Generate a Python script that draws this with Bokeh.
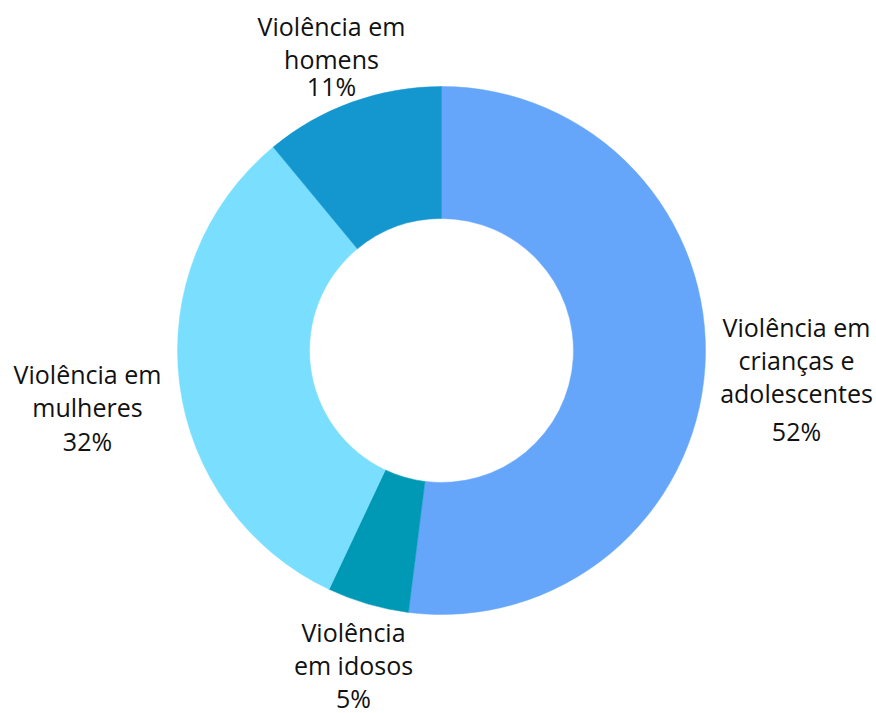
import math
from bokeh.plotting import figure
from bokeh.models import ColumnDataSource, Range1d
from bokeh.core.properties import value
from bokeh.embed import file_html
from bokeh.resources import INLINE

# ---- data ----
categories = ["Violência em crianças e adolescentes", "Violência em idosos",
              "Violência em mulheres", "Violência em homens"]
values = [52, 5, 32, 11]
label_text = ["Violência em\ncrianças e\nadolescentes", "Violência\nem idosos",
              "Violência em\nmulheres", "Violência em\nhomens"]

# ---- style ----
colors = ["#66A6FA", "#0099B5", "#7ADFFE", "#1497CF"]
W, H = 876, 713
CX, CY = 441, 363          # donut centre (px, y up)
R_OUT, R_IN = 264, 132
# position of the percentage line, in px relative to centre (x right, y down)
pct_offsets = [(355, 80), (-88, 347), (-354, 90), (-110, -265)]
pct_gap = [38, 33, 34, 27]
LINE_GAP = 33
FONT = "Open Sans"
FONT_SIZE = "25px"

total = float(sum(values))
starts, ends = [], []
acc = 0.0
for v in values:
    starts.append(math.pi / 2 - acc / total * 2 * math.pi)
    acc += v
    ends.append(math.pi / 2 - acc / total * 2 * math.pi)

wedges = ColumnDataSource(dict(x=[CX] * len(values), y=[CY] * len(values),
                               start=starts, end=ends, color=colors,
                               cat=categories, val=values))

p = figure(width=W, height=H, output_backend="svg", toolbar_location=None,
           x_range=Range1d(0, W), y_range=Range1d(0, H), min_border=0,
           outline_line_color=None)
p.axis.visible = False
p.grid.visible = False
p.background_fill_color = "white"
p.border_fill_color = "white"

p.annular_wedge(x="x", y="y", inner_radius=R_IN, outer_radius=R_OUT,
                start_angle="start", end_angle="end", direction="clock",
                fill_color="color", line_color="color", line_width=0.5,
                source=wedges)

tx, ty, tt = [], [], []
for i, v in enumerate(values):
    dx, dy = pct_offsets[i]
    px = CX + dx
    py = CY - dy
    tx.append(px); ty.append(py); tt.append(f"{v}%")
    lines = label_text[i].split("\n")
    n = len(lines)
    for k, line in enumerate(lines):
        tx.append(px)
        ty.append(py + pct_gap[i] + (n - 1 - k) * LINE_GAP)
        tt.append(line)

p.text(x="x", y="y", text="t", source=ColumnDataSource(dict(x=tx, y=ty, t=tt)),
       text_align="center", text_baseline="middle",
       text_font=value(FONT), text_font_size=FONT_SIZE, text_color="#111111")

open("out.html", "w").write(file_html(p, INLINE))
